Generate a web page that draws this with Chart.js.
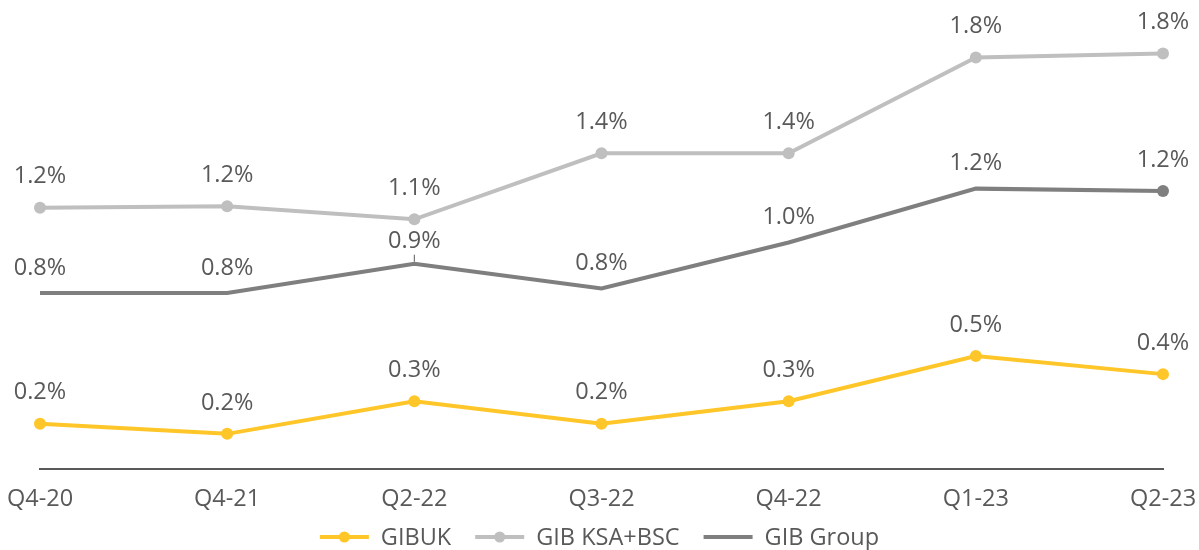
<!DOCTYPE html>
<html>
<head>
<meta charset="utf-8">
<script src="https://cdn.jsdelivr.net/npm/chart.js@4.4.0/dist/chart.umd.min.js"></script>
<style>
  html, body { margin: 0; padding: 0; background: #fff; }
  #wrap { width: 1199px; height: 550px; }
</style>
</head>
<body>
<div id="wrap"><canvas id="chart"></canvas></div>
<script>
const quarters = ["Q4-20", "Q4-21", "Q2-22", "Q3-22", "Q4-22", "Q1-23", "Q2-23"];
const gibUk = [0.2, 0.155, 0.3, 0.2, 0.3, 0.5, 0.42];
const gibKsaBsc = [1.158, 1.165, 1.107, 1.4, 1.4, 1.825, 1.843];
const gibGroup = [0.78, 0.78, 0.91, 0.8, 1.004, 1.243, 1.232];
const seriesNames = ["GIBUK", "GIB KSA+BSC", "GIB Group"];

const textGrey = "#595959";
const fontFamily = "'Open Sans', 'Noto Sans', sans-serif";
const fontSize = 23.5;

// labels above each point, like excel's "above" data labels
const valueLabels = {
  id: "valueLabels",
  afterDatasetsDraw(chart) {
    const ctx = chart.ctx;
    ctx.save();
    ctx.font = fontSize + "px " + fontFamily;
    ctx.fillStyle = textGrey;
    ctx.textAlign = "center";
    ctx.textBaseline = "middle";
    chart.data.datasets.forEach((ds, i) => {
      chart.getDatasetMeta(i).data.forEach((pt, j) => {
        const hasDot = pt.options.radius > 0;
        let off = hasDot ? 31 : 25;
        // the 0.9% label was nudged up in the original, with a leader line
        if (i === 2 && j === 2) {
          off = 22;
          ctx.fillRect(pt.x - 0.5, pt.y - 9, 1, 7);
        }
        const txt = (Math.round(ds.data[j] * 10) / 10).toFixed(1) + "%";
        ctx.fillText(txt, pt.x, pt.y - off);
      });
    });
    ctx.restore();
  }
};

// legend with a short line (and a dot for series that have markers)
const lineLegend = {
  id: "lineLegend",
  afterDraw(chart) {
    const ctx = chart.ctx;
    ctx.save();
    ctx.font = fontSize + "px " + fontFamily;
    const symW = 49, gap = 12, spacing = 24;
    const items = chart.data.datasets.map(ds => ({ ds: ds, w: symW + gap + ctx.measureText(ds.label).width }));
    const total = items.reduce((s, it) => s + it.w, 0) + spacing * (items.length - 1);
    let x = chart.width / 2 - total / 2;
    const y = 537;
    items.forEach(it => {
      const c = it.ds.borderColor;
      ctx.strokeStyle = c;
      ctx.lineWidth = 4;
      ctx.beginPath();
      ctx.moveTo(x, y);
      ctx.lineTo(x + symW, y);
      ctx.stroke();
      if (it.ds.showDot) {
        ctx.fillStyle = c;
        ctx.beginPath();
        ctx.arc(x + symW / 2, y, 5.5, 0, Math.PI * 2);
        ctx.fill();
      }
      ctx.fillStyle = textGrey;
      ctx.textAlign = "left";
      ctx.textBaseline = "middle";
      ctx.fillText(it.ds.label, x + symW + gap, y + 1);
      x += it.w + spacing;
    });
    ctx.restore();
  }
};

function makeSeries(name, data, color, dots) {
  return {
    label: name,
    data: data,
    borderColor: color,
    backgroundColor: color,
    pointBackgroundColor: color,
    pointBorderColor: color,
    pointBorderWidth: 0,
    borderWidth: 4,
    tension: 0,
    clip: false,
    showDot: dots,
    pointRadius: dots ? 6 : (c => c.dataIndex === data.length - 1 ? 6 : 0)
  };
}

new Chart(document.getElementById("chart"), {
  type: "line",
  data: {
    labels: quarters,
    datasets: [
      makeSeries(seriesNames[0], gibUk, "#FFC629", true),
      makeSeries(seriesNames[1], gibKsaBsc, "#BFBFBF", true),
      makeSeries(seriesNames[2], gibGroup, "#7F7F7F", false)
    ]
  },
  options: {
    responsive: true,
    maintainAspectRatio: false,
    animation: false,
    layout: { padding: { left: 40, right: 36, top: 18, bottom: 21 } },
    plugins: {
      legend: { display: false },
      tooltip: { enabled: false }
    },
    scales: {
      x: {
        offset: false,
        grid: { display: false, drawTicks: false },
        border: { display: true, color: textGrey, width: 2 },
        ticks: {
          color: textGrey,
          font: { family: fontFamily, size: fontSize },
          padding: 16,
          maxRotation: 0,
          autoSkip: false
        },
        // edge labels may hang past the plot, like in excel
        afterFit(scale) {
          scale.paddingLeft = 0;
          scale.paddingRight = 0;
        }
      },
      y: { display: false, min: 0, max: 2 }
    }
  },
  plugins: [valueLabels, lineLegend]
});
</script>
</body>
</html>
